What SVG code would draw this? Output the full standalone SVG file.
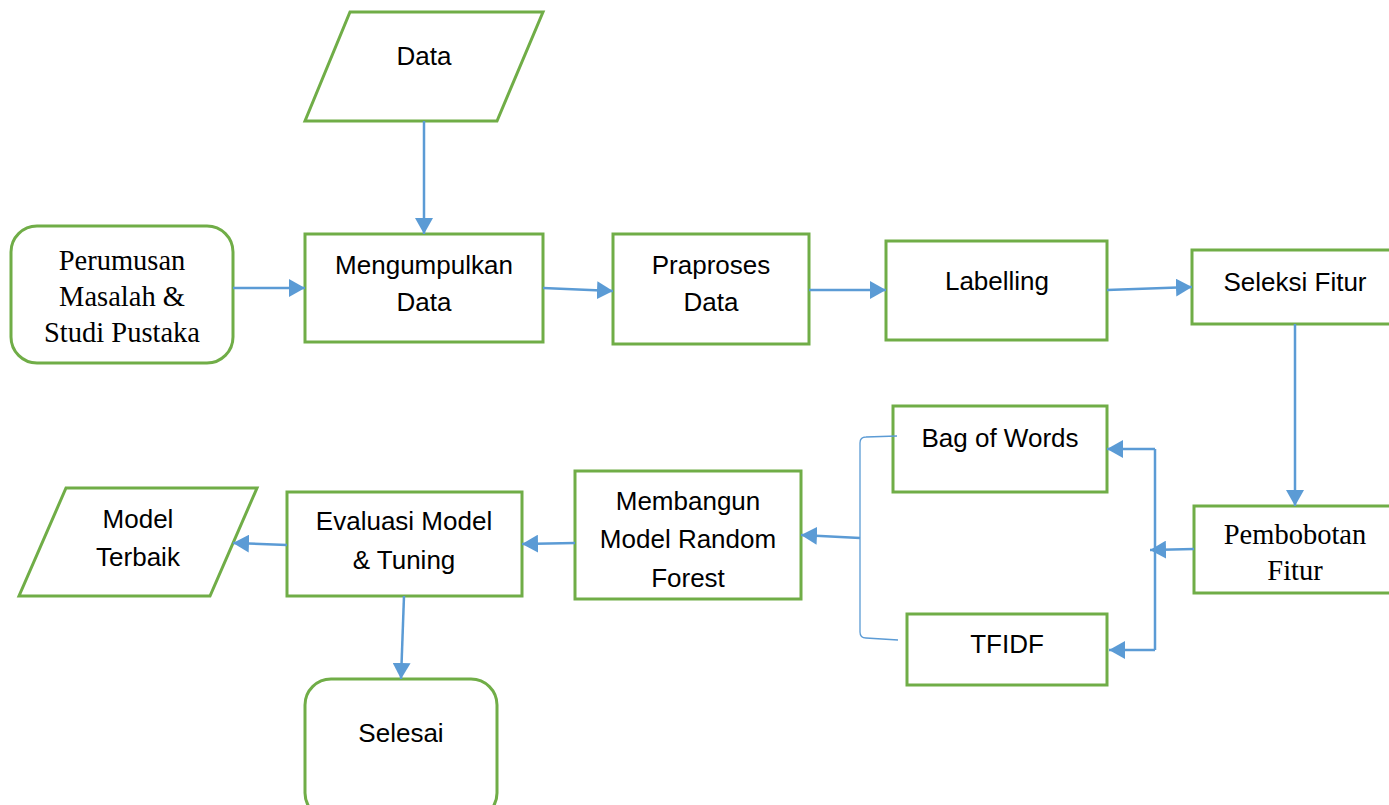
<svg xmlns="http://www.w3.org/2000/svg" width="1389" height="805" viewBox="0 0 1389 805">
<style>
.n{fill:#fff;stroke:#70AD47;stroke-width:3}
.t{font-family:"Liberation Sans",Arial,sans-serif;font-size:26px;fill:#000;text-anchor:middle}
.s{font-family:"Liberation Serif","Times New Roman",serif;font-size:28.5px;fill:#000;text-anchor:middle}
.c{fill:none;stroke:#5B9BD5;stroke-width:2.5}
.b{fill:none;stroke:#5B9BD5;stroke-width:1.3}
</style>
<defs>
<marker id="a" markerUnits="userSpaceOnUse" markerWidth="18" markerHeight="18" refX="16" refY="9" orient="auto">
<path d="M0,0 L16,9 L0,18 Z" fill="#5B9BD5"/>
</marker>
</defs>
<rect width="1389" height="805" fill="#fff"/>
<g id="data"><polygon class="n" points="350,12 543,12 497,121 305,121"/><text class="t" x="424" y="65">Data</text></g>
<g id="perumusan"><rect class="n" x="11" y="226" width="222" height="137" rx="26"/><text class="s" x="122" y="270">Perumusan</text><text class="s" x="122" y="306">Masalah &amp;</text><text class="s" x="122" y="342">Studi Pustaka</text></g>
<g id="mengumpulkan"><rect class="n" x="305" y="234" width="238" height="108"/><text class="t" x="424" y="274">Mengumpulkan</text><text class="t" x="424" y="311">Data</text></g>
<g id="praproses"><rect class="n" x="613" y="234" width="196" height="110"/><text class="t" x="711" y="274">Praproses</text><text class="t" x="711" y="311">Data</text></g>
<g id="labelling"><rect class="n" x="886" y="241" width="221" height="99"/><text class="t" x="997" y="290">Labelling</text></g>
<g id="seleksi"><rect class="n" x="1192" y="250" width="200" height="74"/><text class="t" x="1295" y="291">Seleksi Fitur</text></g>
<g id="pembobotan"><rect class="n" x="1194" y="506" width="200" height="87"/><text class="s" x="1295" y="544">Pembobotan</text><text class="s" x="1295" y="580">Fitur</text></g>
<g id="bow"><rect class="n" x="893" y="406" width="214" height="86"/><text class="t" x="1000" y="447">Bag of Words</text></g>
<g id="tfidf"><rect class="n" x="907" y="614" width="200" height="71"/><text class="t" x="1007" y="653">TFIDF</text></g>
<g id="membangun"><rect class="n" x="575" y="471" width="226" height="128"/><text class="t" x="688" y="510">Membangun</text><text class="t" x="688" y="548">Model Random</text><text class="t" x="688" y="587">Forest</text></g>
<g id="evaluasi"><rect class="n" x="287" y="492" width="235" height="104"/><text class="t" x="404" y="530">Evaluasi Model</text><text class="t" x="404" y="569">&amp; Tuning</text></g>
<g id="model"><polygon class="n" points="66,488 257,488 210,596 19,596"/><text class="t" x="138" y="528">Model</text><text class="t" x="138" y="566">Terbaik</text></g>
<g id="selesai"><rect class="n" x="305" y="679" width="192" height="140" rx="26"/><text class="t" x="401" y="742">Selesai</text></g>
<g id="connectors">
<line class="c" x1="424" y1="121" x2="424" y2="234" marker-end="url(#a)"/>
<line class="c" x1="233" y1="288" x2="305" y2="288" marker-end="url(#a)"/>
<line class="c" x1="543" y1="288" x2="613" y2="291" marker-end="url(#a)"/>
<line class="c" x1="809" y1="290" x2="886" y2="290" marker-end="url(#a)"/>
<line class="c" x1="1107" y1="290" x2="1192" y2="287" marker-end="url(#a)"/>
<line class="c" x1="1295" y1="324" x2="1295" y2="506" marker-end="url(#a)"/>
<line class="c" x1="1194" y1="549" x2="1150" y2="550" marker-end="url(#a)"/>
<polyline class="c" points="1155,449 1155,650"/>
<line class="c" x1="1155" y1="449" x2="1107" y2="449" marker-end="url(#a)"/>
<line class="c" x1="1155" y1="650" x2="1109" y2="650" marker-end="url(#a)"/>
<path class="b" d="M897,436 L866,437 Q860,437 860,443 L860,632 Q860,638 866,638 L898,640"/>
<line class="c" x1="860" y1="538" x2="801" y2="535" marker-end="url(#a)"/>
<line class="c" x1="575" y1="543" x2="522" y2="544" marker-end="url(#a)"/>
<line class="c" x1="287" y1="545" x2="233" y2="543" marker-end="url(#a)"/>
<line class="c" x1="404" y1="596" x2="401" y2="679" marker-end="url(#a)"/>
</g>
</svg>
